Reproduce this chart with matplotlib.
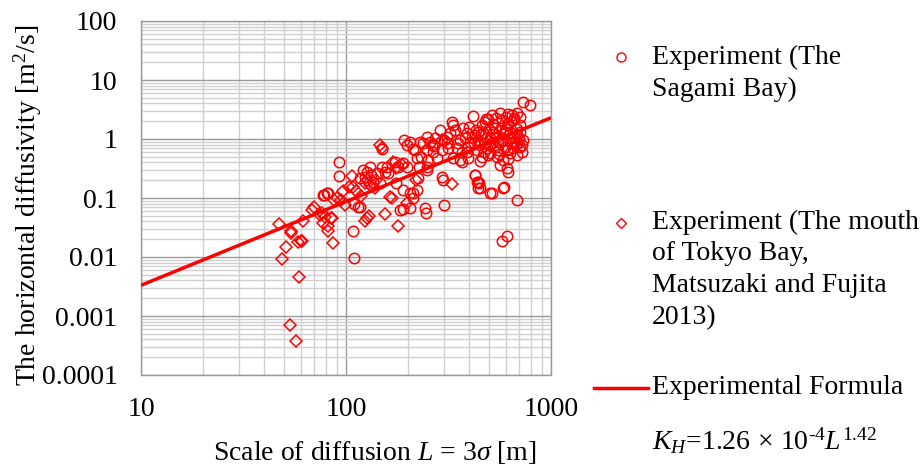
import matplotlib
matplotlib.use("Agg")
import matplotlib.pyplot as plt
from matplotlib.lines import Line2D
from matplotlib.ticker import LogLocator, NullFormatter, FixedLocator, FixedFormatter
import numpy as np

plt.rcParams['font.family'] = ['Liberation Serif', 'DejaVu Serif']
plt.rcParams['mathtext.fontset'] = 'custom'
plt.rcParams['mathtext.rm'] = 'Liberation Serif'
plt.rcParams['mathtext.it'] = 'Liberation Serif:italic'

# ---- Data: Sagami Bay (circles) ----
sagami_L = [92, 92, 110, 108, 114, 110, 117, 78, 81, 77, 82, 121, 133, 141, 136, 146, 158, 161, 173, 180,
            190, 198, 149, 155, 131, 126, 117, 124, 150, 192, 198, 213, 205, 217, 221, 225, 221, 205, 213, 176,
            190, 189, 183, 205, 243, 246, 302, 298, 447, 452, 514, 587, 575, 607, 685, 427, 436, 213, 230, 233,
            226, 257, 247,
            418, 476, 514, 564, 619, 681, 575, 619, 655, 706, 533, 468, 597, 706, 733, 790,
            328, 334, 321, 288, 248, 238, 272, 299, 373, 388, 426, 360, 403, 442, 476, 504, 543, 585, 631, 681,
            733, 706, 681, 597, 533, 485, 435, 395, 347, 316, 293, 267, 248, 277, 252, 334, 366, 395, 459, 494,
            543, 585, 631, 681, 720, 564, 608, 619, 426, 442, 442, 504, 585, 293, 248, 360,
            410, 450, 514, 564, 608, 655, 523, 553, 485, 442, 631, 668, 504, 366, 310, 262, 494, 643, 706,
            380, 420, 455, 470, 500, 530, 550, 580, 600, 640, 660, 350, 400, 460, 520, 570, 620, 680, 700, 720,
            480, 540, 600, 660, 430, 500, 560, 620, 450, 390, 310, 270, 340]
sagami_K = [0.41, 0.236, 0.0095, 0.028, 0.071, 0.08, 0.071, 0.113, 0.12, 0.113, 0.12, 0.3, 0.245, 0.262, 0.189, 0.177, 0.34, 0.262, 0.41, 0.34,
            0.39, 0.34, 0.34, 0.28, 0.34, 0.28, 0.216, 0.23, 0.67, 0.96, 0.79, 0.69, 0.9, 0.65, 0.47, 0.216, 0.137, 0.12, 0.1, 0.177,
            0.137, 0.064, 0.063, 0.067, 0.067, 0.055, 0.076, 0.2, 0.177, 0.146, 0.12, 0.156, 0.019, 0.023, 0.093, 0.245, 0.189, 0.12, 0.9, 0.5,
            0.34, 0.9, 0.3,
            2.45, 1.97, 2.55, 2.72, 2.65, 2.72, 2.10, 1.73, 2.10, 1.73, 1.52, 1.25, 1.33, 1.33, 4.29, 3.77,
            1.97, 1.73, 1.25, 1.42, 1.10, 0.845, 1.03, 0.96, 1.52, 1.25, 1.17, 0.96, 0.90, 0.96, 0.845, 1.03, 1.10, 0.96, 1.03, 1.17,
            0.96, 0.74, 0.845, 0.74, 0.74, 0.695, 0.65, 0.74, 0.695, 0.695, 0.65, 0.61, 0.65, 0.47, 0.44, 0.47, 0.413, 0.47, 0.50, 0.536,
            0.50, 0.44, 0.57, 0.536, 0.61, 0.362, 0.318, 0.279, 0.245, 0.189, 0.146, 0.12, 0.146, 0.224, 0.34, 0.44,
            1.10, 0.79, 0.845, 0.90, 0.65, 0.695, 1.33, 0.65, 1.03, 1.33, 1.33, 0.90, 0.57, 0.61, 0.845, 0.80, 2.2, 2.55, 2.4,
            1.05, 0.85, 1.2, 0.6, 0.8, 1.2, 0.9, 1.2, 1.5, 0.85, 1.1, 0.85, 1.6, 1.7, 1.8, 1.55, 1.9, 1.45, 1.0, 0.8,
            2.2, 2.3, 2.35, 2.3, 1.4, 1.45, 0.55, 0.45, 0.42, 0.6, 1.1, 0.75, 1.4]

# ---- Data: mouth of Tokyo Bay (diamonds) ----
tokyo_L = [47, 54, 54, 68, 62, 51, 49, 58, 60, 61, 59, 53.5, 57, 76, 84.5, 82, 86, 75, 79, 77,
           85, 82, 124, 127, 130, 155, 180, 198, 167, 330, 220, 107, 146, 149, 170, 176, 187, 164, 108, 124,
           95, 99, 126, 131, 138, 104, 97, 87, 70, 112, 118, 140, 90, 293]
tokyo_K = [0.036, 0.028, 0.026, 0.063, 0.04, 0.015, 0.0091, 0.018, 0.0187, 0.019, 0.0046, 0.0007, 0.00037, 0.055, 0.045, 0.028, 0.017, 0.051, 0.048, 0.037,
           0.046, 0.033, 0.041, 0.045, 0.05, 0.054, 0.033, 0.081, 0.1, 0.17, 0.2, 0.236, 0.8, 0.7, 0.41, 0.32, 0.36, 0.105, 0.156, 0.177,
           0.092, 0.076, 0.2, 0.166, 0.146, 0.156, 0.129, 0.094, 0.07, 0.13, 0.11, 0.2, 0.1, 0.97]

# ---- Experimental formula K_H = 1.26e-4 L^1.42 ----
coef = 1.26e-4
expo = 1.42
line_L = np.array([10.0, 1000.0])
line_K = coef * line_L ** expo

W, H = 924, 466
fig = plt.figure(figsize=(W / 100, H / 100), dpi=100)
ax = fig.add_axes([141 / W, 1 - 375 / H, (551 - 141) / W, (375 - 21) / H])

ax.set_xscale('log')
ax.set_yscale('log')
ax.set_xlim(10, 1000)
ax.set_ylim(1e-4, 100)

ax.grid(True, which='minor', color='#d0d0d0', linewidth=1.0)
ax.grid(True, which='major', color='#9a9a9a', linewidth=1.0)
ax.set_axisbelow(True)
ax.xaxis.set_minor_locator(LogLocator(base=10, subs=np.arange(2, 10), numticks=20))
ax.yaxis.set_minor_locator(LogLocator(base=10, subs=np.arange(2, 10), numticks=20))
ax.xaxis.set_minor_formatter(NullFormatter())
ax.yaxis.set_minor_formatter(NullFormatter())

xticks = [10, 100, 1000]
yticks = [0.0001, 0.001, 0.01, 0.1, 1, 10, 100]
ax.xaxis.set_major_locator(FixedLocator(xticks))
ax.xaxis.set_major_formatter(FixedFormatter(['10', '100', '1000']))
ax.yaxis.set_major_locator(FixedLocator(yticks))
ax.yaxis.set_major_formatter(FixedFormatter(['0.0001', '0.001', '0.01', '0.1', '1', '10', '100']))
ax.tick_params(which='both', length=0, labelsize=20)
ax.tick_params(axis='y', pad=17)
ax.tick_params(axis='x', pad=16)
for s in ax.spines.values():
    s.set_color('#9a9a9a')
    s.set_linewidth(1.0)

ax.plot(sagami_L, sagami_K, linestyle='none', marker='o', markersize=7.5, markerfacecolor='none',
        markeredgecolor='#ff0000', markeredgewidth=1.1, zorder=3)
ax.plot(tokyo_L, tokyo_K, linestyle='none', marker='D', markersize=6.3, markerfacecolor='none',
        markeredgecolor='#ff0000', markeredgewidth=1.1, zorder=3)
ax.plot(line_L, line_K, color='#ff0000', linewidth=2.5, zorder=4, solid_capstyle='butt')

def fx(px):
    return px / W

def fy(py):
    return 1 - py / H

# axis labels
fig.text(fx(28), fy(205), 'The horizontal diffusivity [m$^{2}$/s]', rotation=90,
         ha='center', va='center', fontsize=20)
fig.text(fx(375), fy(453), 'Scale of diffusion $L$ = 3$\\sigma$ [m]', ha='center', va='center', fontsize=20)

# legend
fig.add_artist(Line2D([fx(621)], [fy(57)], marker='o', markersize=6.5, markerfacecolor='none',
                      markeredgecolor='#ff0000', markeredgewidth=1.0, linestyle='none', transform=fig.transFigure))
fig.add_artist(Line2D([fx(621)], [fy(223)], marker='D', markersize=5.5, markerfacecolor='none',
                      markeredgecolor='#ff0000', markeredgewidth=1.0, linestyle='none', transform=fig.transFigure))
fig.add_artist(Line2D([fx(594), fx(648)], [fy(388), fy(388)], color='#ff0000', linewidth=2.5,
                      transform=fig.transFigure))

leg_lines = [(57, 'Experiment (The'), (89, 'Sagami Bay)'),
             (222, 'Experiment (The mouth'), (254, 'of Tokyo Bay,'),
             (286, 'Matsuzaki and Fujita'), (318, '2013)'),
             (387, 'Experimental Formula')]
for py, t in leg_lines:
    fig.text(fx(652), fy(py), t, ha='left', va='center', fontsize=20)
fig.text(fx(652), fy(441), '$K_H$=1.26$\\,\\times\\,$10$^{\\mathregular{\u2010}\\mathregular{4}}$$L^{\\mathregular{1.42}}$',
         ha='left', va='center', fontsize=20)

fig.savefig('out.png', dpi=100)
